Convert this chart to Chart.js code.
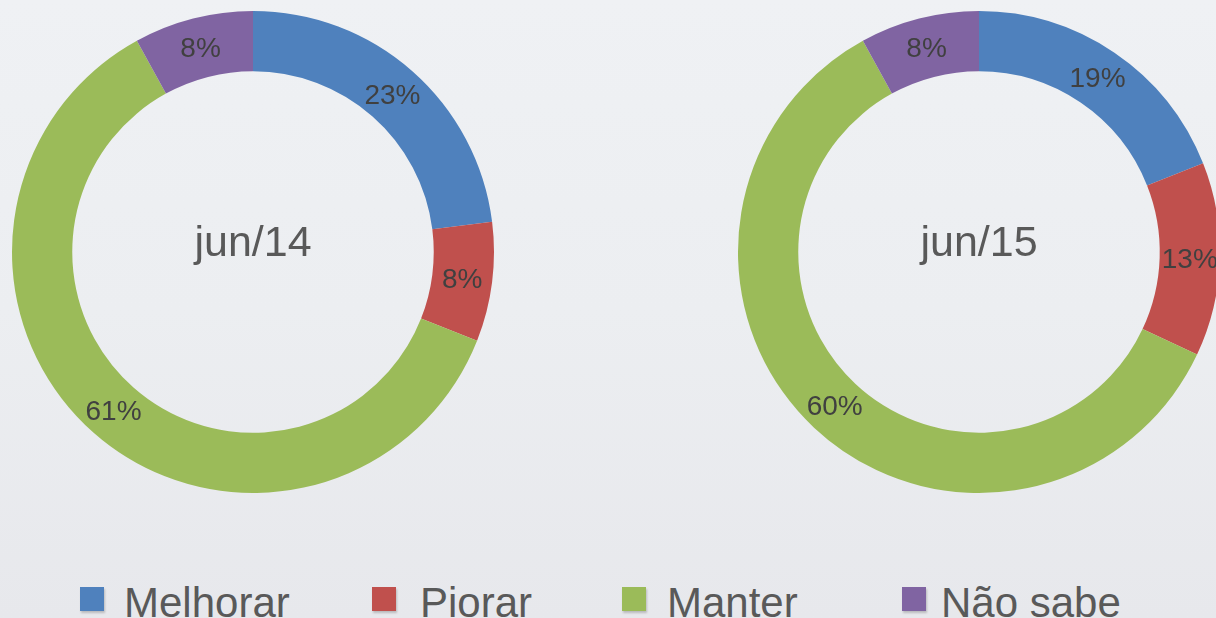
<!DOCTYPE html>
<html>
<head>
<meta charset="utf-8">
<script src="https://cdn.jsdelivr.net/npm/chart.js@4"></script>
<style>
  html, body { margin: 0; padding: 0; }
  body {
    width: 1216px; height: 618px; overflow: hidden; position: relative;
    background: linear-gradient(180deg, #eff1f4 0%, #eceef1 50%, #e7e8ec 100%);
    font-family: "Liberation Sans", Arial, sans-serif;
  }
  canvas { position: absolute; }
  .leg { position: absolute; top: 582px; font-size: 42px; line-height: 42px; color: #595959; white-space: nowrap; }
  .sq { position: absolute; top: 587px; width: 24px; height: 24px; box-shadow: 1px 2px 2px rgba(0,0,0,0.2); }
</style>
</head>
<body>
<canvas id="c14" width="500" height="500" style="left:3px; top:2px;"></canvas>
<canvas id="c15" width="500" height="500" style="left:729px; top:2px;"></canvas>

<div class="sq" style="left:80px; background:#4f81bd;"></div><div class="leg" style="left:124px;">Melhorar</div>
<div class="sq" style="left:372px; background:#c0504d;"></div><div class="leg" style="left:420px;">Piorar</div>
<div class="sq" style="left:622px; background:#9bbb59;"></div><div class="leg" style="left:667px;">Manter</div>
<div class="sq" style="left:902px; background:#8064a2;"></div><div class="leg" style="left:941px;">Não sabe</div>

<script>
const categories = ["Melhorar", "Piorar", "Manter", "Não sabe"];
const jun14 = [23, 8, 61, 8];
const jun15 = [19, 13, 60, 8];
const colors = ["#4f81bd", "#c0504d", "#9bbb59", "#8064a2"];

// draws the % in the middle of each slice and the title in the hole
const labelsPlugin = {
  id: "labels",
  afterDatasetsDraw(chart, args, opts) {
    const ctx = chart.ctx;
    const meta = chart.getDatasetMeta(0);
    ctx.save();
    ctx.textAlign = "center";
    ctx.textBaseline = "middle";
    ctx.font = "28px 'Liberation Sans', Arial, sans-serif";
    ctx.fillStyle = "#404040";
    meta.data.forEach((arc, i) => {
      const p = arc.tooltipPosition();
      ctx.fillText(chart.data.datasets[0].data[i] + "%", p.x, p.y + 2);
    });
    const a = meta.data[0];
    ctx.font = "43px 'Liberation Sans', Arial, sans-serif";
    ctx.fillStyle = "#595959";
    ctx.fillText(opts.title, a.x, a.y - 8);
    ctx.restore();
  }
};

function makeChart(id, values, title) {
  return new Chart(document.getElementById(id), {
    type: "doughnut",
    plugins: [labelsPlugin],
    data: {
      labels: categories,
      datasets: [{
        data: values,
        backgroundColor: colors,
        borderWidth: 0
      }]
    },
    options: {
      responsive: false,
      animation: false,
      cutout: "75%",
      layout: { padding: 9 },
      plugins: {
        legend: { display: false },
        tooltip: { enabled: false },
        labels: { title: title }
      }
    }
  });
}

makeChart("c14", jun14, "jun/14");
makeChart("c15", jun15, "jun/15");
</script>
</body>
</html>
